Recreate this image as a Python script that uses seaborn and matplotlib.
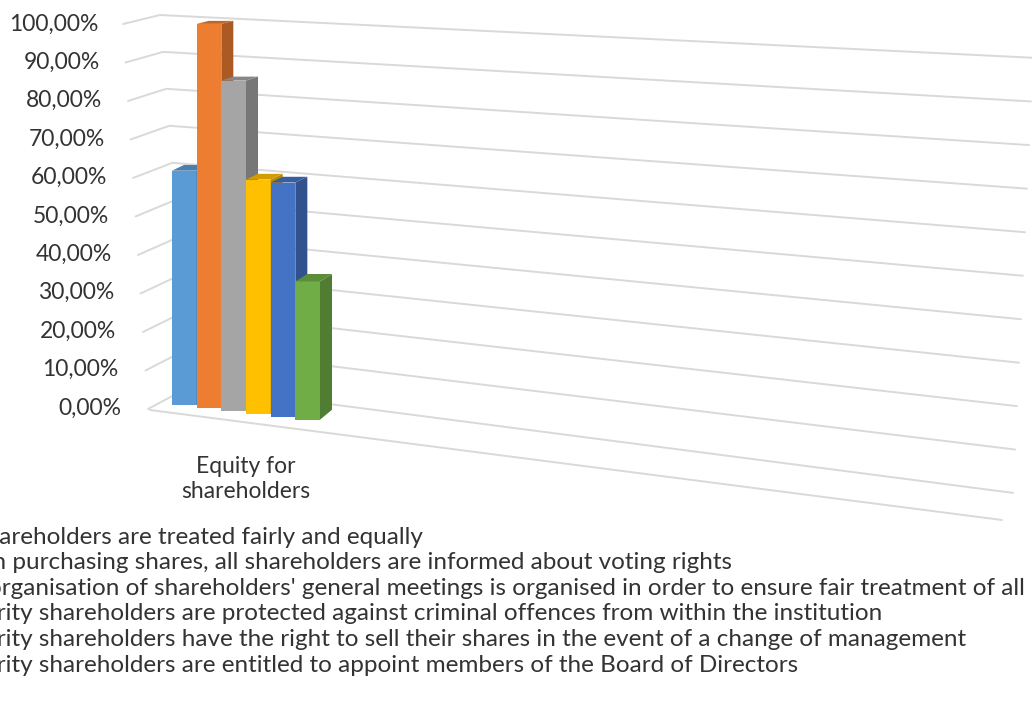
import matplotlib
matplotlib.use("Agg")
import matplotlib.pyplot as plt
import matplotlib.colors as mcolors
from matplotlib.patches import Polygon
import numpy as np
import pandas as pd
import seaborn as sns

# data
category = "Equity for\nshareholders"
series = [
    "All shareholders are treated fairly and equally",
    "When purchasing shares, all shareholders are informed about voting rights",
    "The organisation of shareholders' general meetings is organised in order to ensure fair treatment of all",
    "Minority shareholders are protected against criminal offences from within the institution",
    "Minority shareholders have the right to sell their shares in the event of a change of management",
    "Minority shareholders are entitled to appoint members of the Board of Directors",
]
values = [0.61, 1.00, 0.86, 0.61, 0.61, 0.36]
colors = ["#5B9BD5", "#ED7D31", "#A5A5A5", "#FFC000", "#4472C4", "#70AD47"]
yticks = [0.0, 0.1, 0.2, 0.3, 0.4, 0.5, 0.6, 0.7, 0.8, 0.9, 1.0]
ytick_labels = ["0,00%", "10,00%", "20,00%", "30,00%", "40,00%", "50,00%",
                "60,00%", "70,00%", "80,00%", "90,00%", "100,00%"]

sns.set_theme(style="white")
plt.rcParams["font.family"] = ["Lato", "DejaVu Sans"]
TXT = "#333333"
GRID = "#d9d9d9"
LEG_FS = 17.5

W, H = 1032, 719
fig = plt.figure(figsize=(W / 100, H / 100), dpi=100)

# pixel layout of the front plane: x=0 category centre, v=0..1 value axis
X0, SX, Y0, SY = 246, 185, 408, 384
AX_L, AX_B = 150, 545
ax = fig.add_axes([AX_L / W, 1 - AX_B / H, (W - AX_L) / W, AX_B / H])


def d(px, py):
    return (px - X0) / SX, (Y0 - py) / SY


df = pd.DataFrame({"category": [category] * len(series), "series": series, "value": values})
sns.barplot(data=df, x="category", y="value", hue="series", hue_order=series,
            palette=colors, saturation=1, width=0.8, gap=0, linewidth=0,
            edgecolor="none", ax=ax)
handles, labels = ax.get_legend_handles_labels()
ax.get_legend().remove()
ax.set_xlim(d(AX_L, 0)[0], d(W, 0)[0])
ax.set_ylim(d(0, AX_B)[1], d(0, 0)[1])
ax.axis("off")

# pseudo 3d: shift bar bases onto the floor, add side and top faces
dx = 12 / SX
for i, cont in enumerate(ax.containers):
    base_col = np.array(mcolors.to_rgb(colors[i]))
    for bar in cont:
        xl = bar.get_x()
        w = bar.get_width()
        h = bar.get_height()
        xr = xl + w
        cpx = X0 + SX * (xl + w / 2)
        base = (Y0 - (405 + 0.12 * (cpx - 185))) / SY
        top = base + h
        bar.set_y(base)
        bar.set_zorder(3 + i)
        dyt = (10 - 7 * h) / SY
        dyb = 10 / SY
        ax.add_patch(Polygon([(xr, base), (xr, top), (xr + dx, top + dyt), (xr + dx, base + dyb)],
                             closed=True, color=base_col * 0.72, lw=0, zorder=3 + i))
        ax.add_patch(Polygon([(xl, top), (xr, top), (xr + dx, top + dyt), (xl + dx, top + dyt)],
                             closed=True, color=base_col * 0.82, lw=0, zorder=3 + i))

# perspective gridlines (left wall + back wall)
for v in yticks:
    def yb(x):
        return (382 - 367 * v) + (0.13 - 0.081 * v) * (x - 160)
    p0 = (123 + 25 * (1 - v), 24 + 385 * (1 - v))
    xc = 160 + 31 * (1 - v)
    xr = 1013 + 20 * v
    pts = [d(*p0), d(xc, yb(xc)), d(xr, yb(xr))]
    xs, ys = zip(*pts)
    ax.plot(xs, ys, color=GRID, lw=1.4, zorder=1, clip_on=False, solid_capstyle="round")

# floor front edge
xs, ys = zip(d(150, 410), d(1002, 520))
ax.plot(xs, ys, color=GRID, lw=1.4, zorder=1, clip_on=False)

# value labels follow the slanted left wall
for v, lab in zip(yticks, ytick_labels):
    ax.text(*d(98 + 23 * (1 - v), 24 + 384 * (1 - v)), lab, ha="right", va="center",
            fontsize=16.5, color=TXT, clip_on=False)

ax.text(*d(246, 479), category, ha="center", va="center", fontsize=16.5,
        color=TXT, linespacing=1.22)

# legend, cut off on the left like the original
leg = fig.legend(handles, labels, loc="upper left", bbox_to_anchor=(0.1, 0.3),
                 frameon=False, fontsize=LEG_FS, labelspacing=0.19, handlelength=0.8,
                 handletextpad=0.5, borderpad=0, borderaxespad=0)
for t in leg.get_texts():
    t.set_color(TXT)
fig.canvas.draw()
r = fig.canvas.get_renderer()
probe = fig.text(0, 0, "All sh", fontsize=LEG_FS)
cut = probe.get_window_extent(r).width + 1
probe.remove()
bb = leg.get_texts()[0].get_window_extent(r)
shift_x = -cut - bb.x0
shift_y = (H - 537) - (bb.y0 + bb.y1) / 2
leg.set_bbox_to_anchor((0.1 + shift_x / W, 0.3 + shift_y / H), transform=fig.transFigure)

fig.savefig("out.png", dpi=100)
